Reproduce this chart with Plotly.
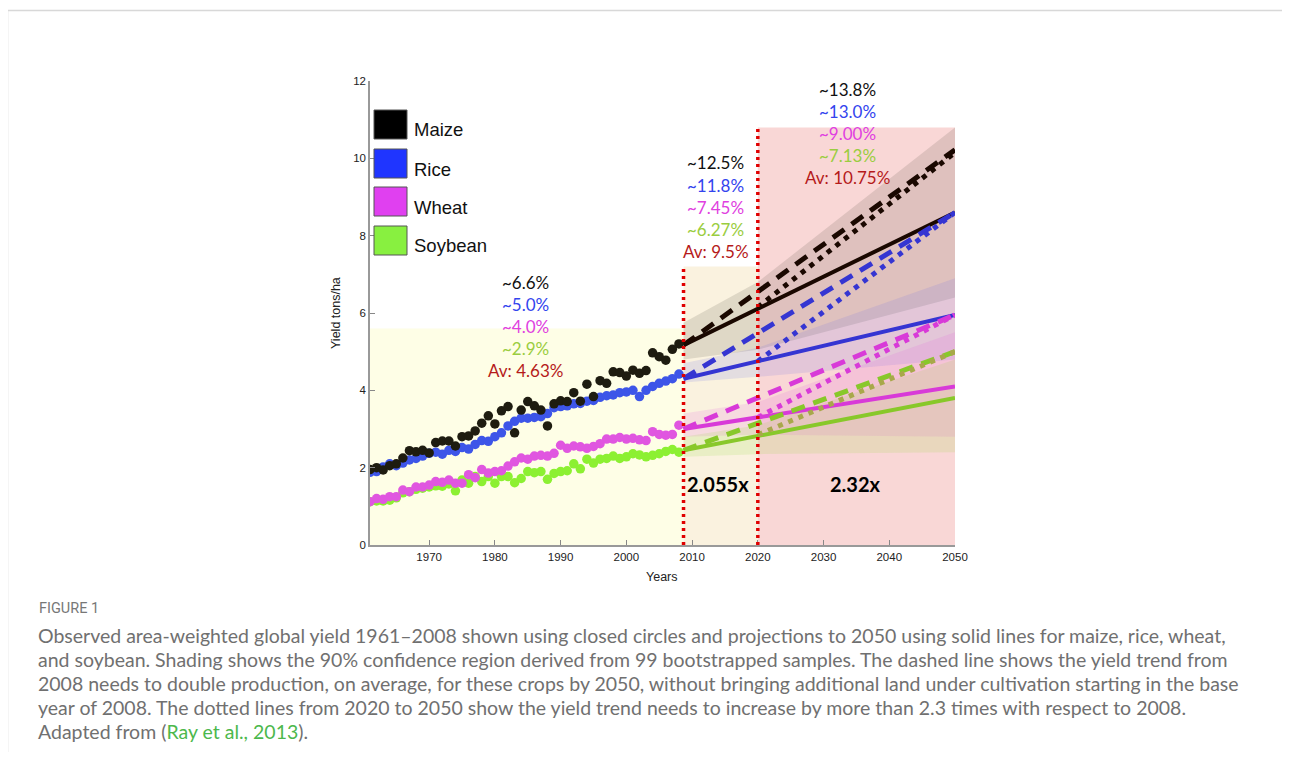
import plotly.graph_objects as go

# page is 1290x762; the html body has an 8px margin, so the figure is drawn 8px in
PAGE_W, PAGE_H = 1290, 762
OFF = 8
W, H = PAGE_W - 2 * OFF, PAGE_H - 2 * OFF - 2


def px(x):
    return (x - OFF) / W


def py(y):
    return 1 - (y - OFF) / H


# ---------------- data ----------------
years = list(range(1961, 2009))
maize = [1.95, 2.00, 1.94, 2.05, 2.10, 2.25, 2.44, 2.41, 2.45, 2.38,
         2.65, 2.69, 2.69, 2.56, 2.80, 2.82, 2.95, 3.15, 3.34, 3.13,
         3.47, 3.58, 2.90, 3.49, 3.71, 3.60, 3.49, 3.08, 3.65, 3.73,
         3.71, 3.94, 3.72, 4.16, 3.84, 4.25, 4.18, 4.48, 4.46, 4.37,
         4.52, 4.44, 4.51, 4.97, 4.87, 4.78, 5.06, 5.20]
rice = [1.88, 1.90, 2.02, 2.10, 2.05, 2.12, 2.20, 2.24, 2.30, 2.37,
        2.40, 2.35, 2.45, 2.42, 2.52, 2.48, 2.60, 2.70, 2.68, 2.80,
        2.90, 3.08, 3.20, 3.28, 3.28, 3.30, 3.32, 3.40, 3.55, 3.58,
        3.60, 3.65, 3.66, 3.72, 3.74, 3.82, 3.86, 3.88, 3.94, 3.96,
        4.00, 3.84, 4.00, 4.10, 4.18, 4.24, 4.30, 4.42]
wheat = [1.12, 1.20, 1.18, 1.25, 1.25, 1.42, 1.38, 1.50, 1.50, 1.55,
         1.64, 1.62, 1.68, 1.60, 1.60, 1.82, 1.74, 1.95, 1.86, 1.90,
         1.92, 2.04, 2.15, 2.25, 2.22, 2.30, 2.32, 2.30, 2.37, 2.58,
         2.50, 2.56, 2.54, 2.50, 2.55, 2.62, 2.74, 2.74, 2.78, 2.74,
         2.76, 2.72, 2.70, 2.93, 2.86, 2.84, 2.86, 3.10]
soybean = [1.12, 1.14, 1.14, 1.16, 1.22, 1.35, 1.38, 1.44, 1.47, 1.50,
           1.53, 1.52, 1.58, 1.40, 1.68, 1.60, 1.77, 1.64, 1.77, 1.60,
           1.77, 1.77, 1.61, 1.72, 1.90, 1.87, 1.90, 1.70, 1.85, 1.90,
           1.92, 2.10, 1.97, 2.22, 2.12, 2.22, 2.24, 2.30, 2.24, 2.28,
           2.36, 2.33, 2.28, 2.32, 2.36, 2.42, 2.47, 2.40]

crops = ["Maize", "Rice", "Wheat", "Soybean"]

# projections
proj_years = [2008.7, 2050]
dot_years = [2020, 2050]
solid = {"Maize": [5.17, 8.6], "Rice": [4.30, 5.95], "Wheat": [3.0, 4.1], "Soybean": [2.45, 3.8]}
dashed = {"Maize": [5.17, 10.22], "Rice": [4.30, 8.6], "Wheat": [3.0, 5.95], "Soybean": [2.45, 5.0]}
dotted = {"Maize": [6.15, 10.15], "Rice": [4.75, 8.6], "Wheat": [3.3, 5.95], "Soybean": [2.85, 5.0]}

band_years = [2008.7, 2020, 2050]
band_lo = {"Maize": [4.8, 5.05, 6.4], "Rice": [4.2, 4.35, 4.8], "Wheat": [2.8, 2.85, 2.8], "Soybean": [2.28, 2.35, 2.4]}
band_hi = {"Maize": [5.75, 6.8, 10.8], "Rice": [4.7, 5.1, 6.9], "Wheat": [3.4, 3.7, 5.5], "Soybean": [2.8, 3.1, 4.8]}

# shaded periods
period_start = [1961, 2008.7, 2020]
period_end = [2008.7, 2020, 2050]
period_top = [5.6, 7.2, 10.8]
period_color = ["#fefee6", "#faf2df", "#f9d7d6"]
red_lines_x = [2008.7, 2020]
red_lines_top = [7.2, 10.8]

# rate labels
label_x = [1984.6, 2013.6, 2033.6]
label_top = [6.8, 9.88, 11.79]
label_texts = [["~6.6%", "~5.0%", "~4.0%", "~2.9%", "Av: 4.63%"],
               ["~12.5%", "~11.8%", "~7.45%", "~6.27%", "Av: 9.5%"],
               ["~13.8%", "~13.0%", "~9.00%", "~7.13%", "Av: 10.75%"]]
label_colors = ["#111111", "#3344ee", "#e040e0", "#9acd40", "#b51a1a"]
factor_x = [2014.0, 2034.8]
factor_y = [1.58, 1.58]
factor_text = ["2.055x", "2.32x"]

x_ticks = [1970, 1980, 1990, 2000, 2010, 2020, 2030, 2040, 2050]
y_ticks = [0, 2, 4, 6, 8, 10, 12]

caption_lines = [
    "Observed area-weighted global yield 1961–2008 shown using closed circles and projections to 2050 using solid lines for maize, rice, wheat,",
    "and soybean. Shading shows the 90% confidence region derived from 99 bootstrapped samples. The dashed line shows the yield trend from",
    "2008 needs to double production, on average, for these crops by 2050, without bringing additional land under cultivation starting in the base",
    "year of 2008. The dotted lines from 2020 to 2050 show the yield trend needs to increase by more than 2.3 times with respect to 2008.",
    "Adapted from (<span style='color:#4cb84c'>Ray et al., 2013</span>).",
]

# ---------------- styles ----------------
pt_color = {"Maize": "#1e1c10", "Rice": "#3d55e8", "Wheat": "#e056e0", "Soybean": "#8cf032"}
ln_color = {"Maize": "#1a0800", "Rice": "#3535d2", "Wheat": "#d83ad8", "Soybean": "#88c82a"}
dot_color = {"Maize": "#1a0800", "Rice": "#3535d2", "Wheat": "#d83ad8", "Soybean": "#a8a84a"}
band_color = {"Maize": "rgba(90,80,70,0.16)", "Rice": "rgba(110,110,230,0.16)",
              "Wheat": "rgba(230,80,230,0.14)", "Soybean": "rgba(150,220,60,0.16)"}
legend_color = {"Maize": "#000000", "Rice": "#1f35ff", "Wheat": "#e040f0", "Soybean": "#88f040"}
series = {"Maize": maize, "Rice": rice, "Wheat": wheat, "Soybean": soybean}
AXFONT = "Liberation Sans, Arial"

fig = go.Figure()

for c in crops:
    xs = band_years + band_years[::-1]
    ys = band_hi[c] + band_lo[c][::-1]
    fig.add_trace(go.Scatter(x=xs, y=ys, fill="toself", fillcolor=band_color[c],
                             line=dict(width=0), mode="lines", hoverinfo="skip", showlegend=False))

for c in crops:
    fig.add_trace(go.Scatter(x=proj_years, y=solid[c], mode="lines",
                             line=dict(color=ln_color[c], width=4), showlegend=False))
    fig.add_trace(go.Scatter(x=proj_years, y=dashed[c], mode="lines",
                             line=dict(color=ln_color[c], width=5, dash="14px,9px"), showlegend=False))
    fig.add_trace(go.Scatter(x=dot_years, y=dotted[c], mode="lines",
                             line=dict(color=dot_color[c], width=5, dash="5px,6px"), showlegend=False))

for c in ["Soybean", "Wheat", "Rice", "Maize"]:
    fig.add_trace(go.Scatter(x=years, y=series[c], mode="markers",
                             marker=dict(color=pt_color[c], size=9.5, line=dict(width=0)),
                             name=c, showlegend=False))

shapes = []
for s, e, t, col in zip(period_start, period_end, period_top, period_color):
    shapes.append(dict(type="rect", xref="x", yref="y", x0=s, x1=e, y0=0, y1=t,
                       fillcolor=col, line=dict(width=0), layer="below"))
for xv, top in zip(red_lines_x, red_lines_top):
    shapes.append(dict(type="line", xref="x", yref="y", x0=xv, x1=xv, y0=0, y1=top,
                       line=dict(color="#e00000", width=3.5, dash="3px,4px"), layer="above"))

# page frame
shapes.append(dict(type="rect", xref="paper", yref="paper", x0=px(7.5), x1=1.05, y0=-0.1, y1=py(10.5),
                   line=dict(color="#d8d8d8", width=1.5), fillcolor="rgba(0,0,0,0)"))

annotations = []
sw_top = [110, 149, 187, 226]
for i, c in enumerate(crops):
    y0 = sw_top[i]
    shapes.append(dict(type="rect", xref="paper", yref="paper",
                       x0=px(374), x1=px(407), y0=py(y0 + 29), y1=py(y0),
                       fillcolor=legend_color[c], line=dict(color="#555555", width=1)))
    annotations.append(dict(xref="paper", yref="paper", x=px(412), y=py(y0 + 20),
                            text=c, showarrow=False, xanchor="left", yanchor="middle",
                            font=dict(family=AXFONT, size=18.5, color="#111111")))

for gx, gt, texts in zip(label_x, label_top, label_texts):
    for j, (t, col) in enumerate(zip(texts, label_colors)):
        annotations.append(dict(xref="x", yref="y", x=gx, y=gt - 0.57 * j, text=t,
                                showarrow=False, xanchor="center", yanchor="middle",
                                font=dict(family="Lato, Open Sans", size=17, color=col)))
for fx, fy, ft in zip(factor_x, factor_y, factor_text):
    annotations.append(dict(xref="x", yref="y", x=fx, y=fy, text="<b>" + ft + "</b>",
                            showarrow=False, xanchor="center", yanchor="middle",
                            font=dict(family="Lato, Open Sans", size=20, color="#000000")))

# axis titles
annotations.append(dict(xref="paper", yref="paper", x=px(662), y=py(577), text="Years",
                        showarrow=False, xanchor="center", yanchor="middle",
                        font=dict(family=AXFONT, size=12.5, color="#222222")))
annotations.append(dict(xref="paper", yref="paper", x=px(336), y=py(313), text="Yield tons/ha",
                        showarrow=False, xanchor="center", yanchor="middle", textangle=-90,
                        font=dict(family=AXFONT, size=12.5, color="#222222")))

# caption
annotations.append(dict(xref="paper", yref="paper", x=px(37), y=py(608), text="FIGURE 1",
                        showarrow=False, xanchor="left", yanchor="middle",
                        font=dict(family="Roboto, Lato", size=14.5, color="#777777")))
for k, line in enumerate(caption_lines):
    annotations.append(dict(xref="paper", yref="paper", x=px(36), y=py(635 + 24 * k), text=line,
                            showarrow=False, xanchor="left", yanchor="middle",
                            font=dict(family="Lato", size=19.5, color="#707070")))

fig.update_layout(
    width=W, height=H,
    margin=dict(l=0, r=0, t=0, b=0),
    paper_bgcolor="white", plot_bgcolor="white",
    showlegend=False,
    shapes=shapes, annotations=annotations,
    xaxis=dict(domain=[px(370), px(955)], range=[1961, 2050], automargin=False,
               tickvals=x_ticks,
               ticks="inside", ticklen=5, tickcolor="#888888",
               showline=True, linecolor="#999999", linewidth=1.5,
               showgrid=False, zeroline=False,
               tickfont=dict(family=AXFONT, size=11.5, color="#222222")),
    yaxis=dict(domain=[py(545), py(81)], range=[0, 12], automargin=False,
               tickvals=y_ticks,
               ticks="inside", ticklen=5, tickcolor="#888888",
               showline=True, linecolor="#999999", linewidth=1.5,
               showgrid=False, zeroline=False,
               tickfont=dict(family=AXFONT, size=11.5, color="#222222")),
)

fig.write_html("out.html")
